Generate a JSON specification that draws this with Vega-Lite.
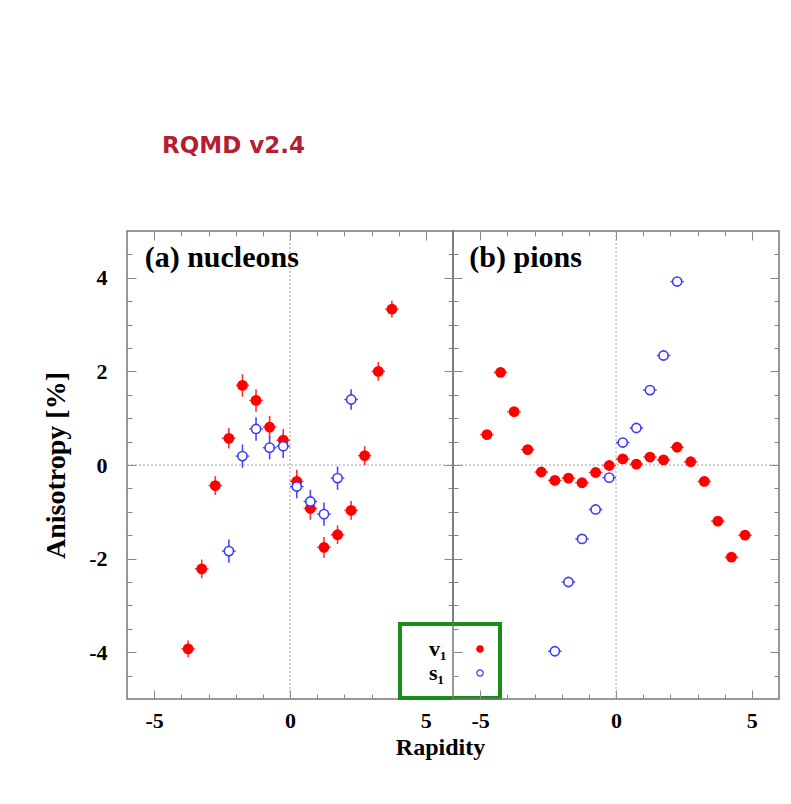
{
  "$schema": "https://vega.github.io/schema/vega-lite/v6.json",
  "background": "white",
  "padding": {"left": 41, "top": 134, "right": 5, "bottom": 20},
  "bounds": "flush",
  "title": {"text": "RQMD v2.4", "anchor": "start", "frame": "group", "dx": 35, "offset": 72, "font": "DejaVu Sans", "fontSize": 23, "fontWeight": "bold", "color": "#B41E32"},
  "datasets": {
    "pts": [
      {"p": "nucleons", "s": "v1", "rap": -3.75, "val": -3.93, "e": 0.18, "ex": 0.25},
      {"p": "nucleons", "s": "v1", "rap": -3.25, "val": -2.22, "e": 0.2, "ex": 0.25},
      {"p": "nucleons", "s": "v1", "rap": -2.75, "val": -0.44, "e": 0.2, "ex": 0.25},
      {"p": "nucleons", "s": "v1", "rap": -2.25, "val": 0.57, "e": 0.22, "ex": 0.25},
      {"p": "nucleons", "s": "v1", "rap": -1.75, "val": 1.70, "e": 0.24, "ex": 0.25},
      {"p": "nucleons", "s": "v1", "rap": -1.25, "val": 1.38, "e": 0.24, "ex": 0.25},
      {"p": "nucleons", "s": "v1", "rap": -0.75, "val": 0.81, "e": 0.24, "ex": 0.25},
      {"p": "nucleons", "s": "v1", "rap": -0.25, "val": 0.53, "e": 0.24, "ex": 0.25},
      {"p": "nucleons", "s": "v1", "rap": 0.25, "val": -0.35, "e": 0.25, "ex": 0.25},
      {"p": "nucleons", "s": "v1", "rap": 0.75, "val": -0.93, "e": 0.24, "ex": 0.25},
      {"p": "nucleons", "s": "v1", "rap": 1.25, "val": -1.76, "e": 0.22, "ex": 0.25},
      {"p": "nucleons", "s": "v1", "rap": 1.75, "val": -1.49, "e": 0.2, "ex": 0.25},
      {"p": "nucleons", "s": "v1", "rap": 2.25, "val": -0.97, "e": 0.2, "ex": 0.25},
      {"p": "nucleons", "s": "v1", "rap": 2.75, "val": 0.20, "e": 0.2, "ex": 0.25},
      {"p": "nucleons", "s": "v1", "rap": 3.25, "val": 2.00, "e": 0.2, "ex": 0.25},
      {"p": "nucleons", "s": "v1", "rap": 3.75, "val": 3.33, "e": 0.18, "ex": 0.25},
      {"p": "nucleons", "s": "s1", "rap": -2.25, "val": -1.84, "e": 0.25, "ex": 0.25},
      {"p": "nucleons", "s": "s1", "rap": -1.75, "val": 0.19, "e": 0.25, "ex": 0.25},
      {"p": "nucleons", "s": "s1", "rap": -1.25, "val": 0.77, "e": 0.25, "ex": 0.25},
      {"p": "nucleons", "s": "s1", "rap": -0.75, "val": 0.37, "e": 0.25, "ex": 0.25},
      {"p": "nucleons", "s": "s1", "rap": -0.25, "val": 0.40, "e": 0.25, "ex": 0.25},
      {"p": "nucleons", "s": "s1", "rap": 0.25, "val": -0.46, "e": 0.25, "ex": 0.25},
      {"p": "nucleons", "s": "s1", "rap": 0.75, "val": -0.78, "e": 0.25, "ex": 0.25},
      {"p": "nucleons", "s": "s1", "rap": 1.25, "val": -1.05, "e": 0.25, "ex": 0.25},
      {"p": "nucleons", "s": "s1", "rap": 1.75, "val": -0.28, "e": 0.25, "ex": 0.25},
      {"p": "nucleons", "s": "s1", "rap": 2.25, "val": 1.40, "e": 0.22, "ex": 0.25},
      {"p": "pions", "s": "v1", "rap": -4.75, "val": 0.65, "e": 0.08, "ex": 0.25},
      {"p": "pions", "s": "v1", "rap": -4.25, "val": 1.98, "e": 0.08, "ex": 0.25},
      {"p": "pions", "s": "v1", "rap": -3.75, "val": 1.14, "e": 0.07, "ex": 0.25},
      {"p": "pions", "s": "v1", "rap": -3.25, "val": 0.33, "e": 0.06, "ex": 0.25},
      {"p": "pions", "s": "v1", "rap": -2.75, "val": -0.15, "e": 0.05, "ex": 0.25},
      {"p": "pions", "s": "v1", "rap": -2.25, "val": -0.33, "e": 0.05, "ex": 0.25},
      {"p": "pions", "s": "v1", "rap": -1.75, "val": -0.28, "e": 0.05, "ex": 0.25},
      {"p": "pions", "s": "v1", "rap": -1.25, "val": -0.38, "e": 0.05, "ex": 0.25},
      {"p": "pions", "s": "v1", "rap": -0.75, "val": -0.16, "e": 0.05, "ex": 0.25},
      {"p": "pions", "s": "v1", "rap": -0.25, "val": -0.01, "e": 0.05, "ex": 0.25},
      {"p": "pions", "s": "v1", "rap": 0.25, "val": 0.13, "e": 0.05, "ex": 0.25},
      {"p": "pions", "s": "v1", "rap": 0.75, "val": 0.02, "e": 0.05, "ex": 0.25},
      {"p": "pions", "s": "v1", "rap": 1.25, "val": 0.17, "e": 0.05, "ex": 0.25},
      {"p": "pions", "s": "v1", "rap": 1.75, "val": 0.11, "e": 0.05, "ex": 0.25},
      {"p": "pions", "s": "v1", "rap": 2.25, "val": 0.38, "e": 0.05, "ex": 0.25},
      {"p": "pions", "s": "v1", "rap": 2.75, "val": 0.07, "e": 0.05, "ex": 0.25},
      {"p": "pions", "s": "v1", "rap": 3.25, "val": -0.35, "e": 0.06, "ex": 0.25},
      {"p": "pions", "s": "v1", "rap": 3.75, "val": -1.20, "e": 0.07, "ex": 0.25},
      {"p": "pions", "s": "v1", "rap": 4.25, "val": -1.97, "e": 0.08, "ex": 0.25},
      {"p": "pions", "s": "v1", "rap": 4.75, "val": -1.50, "e": 0.08, "ex": 0.25},
      {"p": "pions", "s": "s1", "rap": -2.25, "val": -3.98, "e": 0.05, "ex": 0.25},
      {"p": "pions", "s": "s1", "rap": -1.75, "val": -2.50, "e": 0.05, "ex": 0.25},
      {"p": "pions", "s": "s1", "rap": -1.25, "val": -1.58, "e": 0.05, "ex": 0.25},
      {"p": "pions", "s": "s1", "rap": -0.75, "val": -0.95, "e": 0.05, "ex": 0.25},
      {"p": "pions", "s": "s1", "rap": -0.25, "val": -0.27, "e": 0.05, "ex": 0.25},
      {"p": "pions", "s": "s1", "rap": 0.25, "val": 0.48, "e": 0.05, "ex": 0.25},
      {"p": "pions", "s": "s1", "rap": 0.75, "val": 0.79, "e": 0.05, "ex": 0.25},
      {"p": "pions", "s": "s1", "rap": 1.25, "val": 1.60, "e": 0.05, "ex": 0.25},
      {"p": "pions", "s": "s1", "rap": 1.75, "val": 2.34, "e": 0.05, "ex": 0.25},
      {"p": "pions", "s": "s1", "rap": 2.25, "val": 3.92, "e": 0.05, "ex": 0.25}
    ]
  },
  "spacing": 0,
  "resolve": {
    "scale": {"fill": "independent", "stroke": "independent"},
    "legend": {"fill": "independent", "stroke": "independent"}
  },
  "hconcat": [
    {
      "width": 326,
      "height": 468,
      "data": {"name": "pts"},
      "transform": [{"filter": "datum.p === 'nucleons'"}],
      "layer": [
        {
          "data": {"values": [{}]},
          "mark": {"type": "rule", "strokeDash": [2, 2], "color": "#a0a0a0", "strokeWidth": 1},
          "encoding": {
            "x": {"datum": 0, "type": "quantitative", "scale": {"domain": [-6, 6], "nice": false, "zero": false},
              "axis": {"orient": "bottom", "values": [-5, -4, -3, -2, -1, 0, 1, 2, 3, 4, 5],
                "labelExpr": "datum.value % 5 === 0 ? '' + datum.value : ''",
                "tickSize": {"condition": {"test": "datum.value % 5 === 0", "value": -9}, "value": -5},
                "labelPadding": 20, "labelOverlap": false, "labelFlush": false,
                "title": "Rapidity", "titleX": 313, "titlePadding": 0, "titleFontSize": 24}}
          }
        },
        {
          "data": {"values": [{}]},
          "mark": {"type": "rule", "strokeDash": [2, 2], "color": "#a0a0a0", "strokeWidth": 1},
          "encoding": {
            "y": {"datum": 0, "type": "quantitative", "scale": {"domain": [-5, 5], "nice": false, "zero": false},
              "axis": {"orient": "left", "values": [-4.5, -4, -3.5, -3, -2.5, -2, -1.5, -1, -0.5, 0, 0.5, 1, 1.5, 2, 2.5, 3, 3.5, 4, 4.5],
                "labelExpr": "datum.value % 2 === 0 ? '' + datum.value : ''",
                "tickSize": {"condition": {"test": "datum.value % 2 === 0", "value": -9}, "value": -5},
                "labelPadding": 29, "labelOverlap": false, "labelFlush": false,
                "title": "Anisotropy [%]", "titlePadding": 18, "titleFontSize": 28}}
          }
        },
        {
          "mark": {"type": "errorbar", "ticks": false, "thickness": 1.6},
          "encoding": {
            "x": {"field": "rap", "type": "quantitative",
              "axis": {"orient": "top", "values": [-5, -4, -3, -2, -1, 0, 1, 2, 3, 4, 5], "labels": false, "title": null,
                "tickSize": {"condition": {"test": "datum.value % 5 === 0", "value": -9}, "value": -5}}},
            "y": {"field": "val", "type": "quantitative",
              "axis": {"orient": "right", "values": [-4.5, -4, -3.5, -3, -2.5, -2, -1.5, -1, -0.5, 0, 0.5, 1, 1.5, 2, 2.5, 3, 3.5, 4, 4.5], "labels": false, "title": null,
                "tickSize": {"condition": {"test": "datum.value % 2 === 0", "value": -9}, "value": -5}}},
            "yError": {"field": "e"},
            "color": {"field": "s", "type": "nominal", "scale": {"domain": ["v1", "s1"], "range": ["#ff3030", "#4848ff"]}, "legend": null}
          }
        },
        {
          "mark": {"type": "errorbar", "ticks": false, "thickness": 1.4},
          "encoding": {
            "x": {"field": "rap", "type": "quantitative", "axis": null},
            "xError": {"field": "ex"},
            "y": {"field": "val", "type": "quantitative", "axis": null},
            "color": {"field": "s", "type": "nominal", "scale": {"domain": ["v1", "s1"], "range": ["#ff3030", "#4848ff"]}, "legend": null}
          }
        },
        {
          "mark": {"type": "point", "shape": "circle", "size": 85, "strokeWidth": 1.6, "opacity": 1},
          "encoding": {
            "x": {"field": "rap", "type": "quantitative", "axis": null},
            "y": {"field": "val", "type": "quantitative", "axis": null},
            "fill": {"field": "s", "type": "nominal", "scale": {"domain": ["v1", "s1"], "range": ["#ff0000", "#ffffff"]},
              "legend": {"orient": "none", "legendX": 273, "legendY": 393, "title": null,
                "labelExpr": "datum.value === 'v1' ? 'v₁' : 's₁'"}},
            "stroke": {"field": "s", "type": "nominal", "scale": {"domain": ["v1", "s1"], "range": ["#ff0000", "#3c3cff"]},
              "legend": {"orient": "none", "legendX": 273, "legendY": 393, "title": null,
                "labelExpr": "datum.value === 'v1' ? 'v₁' : 's₁'"}}
          }
        },
        {
          "data": {"values": [{}]},
          "mark": {"type": "text", "align": "left", "baseline": "alphabetic", "font": "Liberation Serif", "fontWeight": "bold", "fontSize": 30, "color": "#000"},
          "encoding": {
            "x": {"datum": -5.35, "type": "quantitative", "axis": null},
            "y": {"datum": 4.24, "type": "quantitative", "axis": null},
            "text": {"value": "(a) nucleons"}
          }
        }
      ],
      "resolve": {"axis": {"x": "independent", "y": "independent"}}
    },
    {
      "width": 326,
      "height": 468,
      "data": {"name": "pts"},
      "transform": [{"filter": "datum.p === 'pions'"}],
      "layer": [
        {
          "data": {"values": [{}]},
          "mark": {"type": "rule", "strokeDash": [2, 2], "color": "#a0a0a0", "strokeWidth": 1},
          "encoding": {
            "x": {"datum": 0, "type": "quantitative", "scale": {"domain": [-6, 6], "nice": false, "zero": false},
              "axis": {"orient": "bottom", "values": [-5, -4, -3, -2, -1, 0, 1, 2, 3, 4, 5],
                "labelExpr": "datum.value % 5 === 0 ? '' + datum.value : ''",
                "tickSize": {"condition": {"test": "datum.value % 5 === 0", "value": -9}, "value": -5},
                "labelPadding": 20, "labelOverlap": false, "labelFlush": false, "title": null}}
          }
        },
        {
          "data": {"values": [{}]},
          "mark": {"type": "rule", "strokeDash": [2, 2], "color": "#a0a0a0", "strokeWidth": 1},
          "encoding": {
            "y": {"datum": 0, "type": "quantitative", "scale": {"domain": [-5, 5], "nice": false, "zero": false},
              "axis": {"orient": "left", "values": [-4.5, -4, -3.5, -3, -2.5, -2, -1.5, -1, -0.5, 0, 0.5, 1, 1.5, 2, 2.5, 3, 3.5, 4, 4.5],
                "labels": false, "title": null,
                "tickSize": {"condition": {"test": "datum.value % 2 === 0", "value": -9}, "value": -5}}}
          }
        },
        {
          "mark": {"type": "errorbar", "ticks": false, "thickness": 1.6},
          "encoding": {
            "x": {"field": "rap", "type": "quantitative",
              "axis": {"orient": "top", "values": [-5, -4, -3, -2, -1, 0, 1, 2, 3, 4, 5], "labels": false, "title": null,
                "tickSize": {"condition": {"test": "datum.value % 5 === 0", "value": -9}, "value": -5}}},
            "y": {"field": "val", "type": "quantitative",
              "axis": {"orient": "right", "values": [-4.5, -4, -3.5, -3, -2.5, -2, -1.5, -1, -0.5, 0, 0.5, 1, 1.5, 2, 2.5, 3, 3.5, 4, 4.5], "labels": false, "title": null,
                "tickSize": {"condition": {"test": "datum.value % 2 === 0", "value": -9}, "value": -5}}},
            "yError": {"field": "e"},
            "color": {"field": "s", "type": "nominal", "scale": {"domain": ["v1", "s1"], "range": ["#ff3030", "#4848ff"]}, "legend": null}
          }
        },
        {
          "mark": {"type": "errorbar", "ticks": false, "thickness": 1.4},
          "encoding": {
            "x": {"field": "rap", "type": "quantitative", "axis": null},
            "xError": {"field": "ex"},
            "y": {"field": "val", "type": "quantitative", "axis": null},
            "color": {"field": "s", "type": "nominal", "scale": {"domain": ["v1", "s1"], "range": ["#ff3030", "#4848ff"]}, "legend": null}
          }
        },
        {
          "mark": {"type": "point", "shape": "circle", "size": 85, "strokeWidth": 1.6, "opacity": 1},
          "encoding": {
            "x": {"field": "rap", "type": "quantitative", "axis": null},
            "y": {"field": "val", "type": "quantitative", "axis": null},
            "fill": {"field": "s", "type": "nominal", "scale": {"domain": ["v1", "s1"], "range": ["#ff0000", "#ffffff"]}, "legend": null},
            "stroke": {"field": "s", "type": "nominal", "scale": {"domain": ["v1", "s1"], "range": ["#ff0000", "#3c3cff"]}, "legend": null}
          }
        },
        {
          "data": {"values": [{}]},
          "mark": {"type": "text", "align": "left", "baseline": "alphabetic", "font": "Liberation Serif", "fontWeight": "bold", "fontSize": 30, "color": "#000"},
          "encoding": {
            "x": {"datum": -5.4, "type": "quantitative", "axis": null},
            "y": {"datum": 4.24, "type": "quantitative", "axis": null},
            "text": {"value": "(b) pions"}
          }
        }
      ],
      "resolve": {"axis": {"x": "independent", "y": "independent"}}
    }
  ],
  "config": {
    "view": {"stroke": "#777", "strokeWidth": 1.5},
    "axis": {"domain": false, "grid": false, "tickColor": "#888", "tickWidth": 1, "minExtent": 0,
      "labelFont": "Liberation Serif", "labelFontWeight": "bold", "labelFontSize": 22, "labelColor": "#000",
      "titleFont": "Liberation Serif", "titleFontWeight": "bold", "titleColor": "#000"},
    "legend": {
      "strokeColor": "#1a8c1a", "strokeWidth": 4, "fillColor": "#ffffff", "padding": 14,
      "labelFont": "Liberation Serif", "labelFontWeight": "bold", "labelFontSize": 22, "labelColor": "#000",
      "symbolOffset": 55, "labelOffset": -62, "rowPadding": 2, "symbolSize": 40, "symbolStrokeWidth": 1.2}
  }
}
